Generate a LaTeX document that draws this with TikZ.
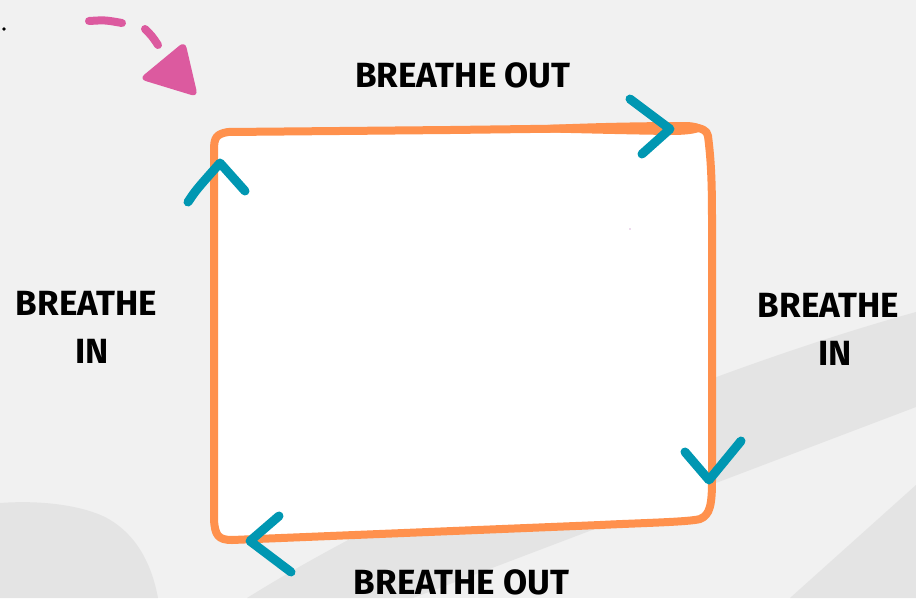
\documentclass[tikz,border=0pt]{standalone}
\usepackage{fontspec}
\setmainfont{Fira Sans}
\definecolor{bgl}{HTML}{F1F1F1}
\definecolor{bgd}{HTML}{E4E4E4}
\definecolor{boxor}{HTML}{FF914D}
\definecolor{teal}{HTML}{0097B2}
\definecolor{pinkc}{HTML}{DC5A9F}
\tikzset{
  boxline/.style={draw=boxor, line width=8pt, fill=white, line join=round},
  chev/.style={draw=teal, line width=9pt, line cap=round, line join=round},
  pinkdash/.style={draw=pinkc, line width=8pt, line cap=round},
  lbl/.style={inner sep=0pt, anchor=base, font=\fontsize{35}{40}\selectfont\bfseries}
}
\begin{document}
\begin{tikzpicture}[x=1pt,y=-1pt]
\useasboundingbox (0,0) rectangle (916,598);
% background
\fill[bgl] (0,0) rectangle (916,598);
\fill[bgd] (916,312) .. controls (700,372) and (420,490) .. (247,598) -- (413,598) -- (916,407) -- cycle;
\fill[bgd] (790,598) -- (916,485) -- (916,598) -- cycle;
\fill[bgd] (0,503) .. controls (40,500) and (80,505) .. (105,517) .. controls (130,530) and (150,555) .. (158,598) -- (0,598) -- cycle;
% box
\draw[boxline] (214,150) .. controls (214,138) and (216,134) .. (228,132) -- (450,130) -- (690,127) .. controls (702,128) and (707,130) .. (708,136) .. controls (711,160) and (712,180) .. (712,220) -- (712,480) .. controls (712,505) and (710,515) .. (700,519) .. controls (690,522) and (640,523) .. (600,525) -- (232,540) .. controls (218,540) and (215,535) .. (214,520) -- cycle;
\fill[boxor] (480,129) .. controls (560,123) and (640,122) .. (688,122) .. controls (700,123) and (704,126) .. (704,129) .. controls (700,133) and (690,135) .. (670,135) .. controls (600,134) and (540,132) .. (480,131) -- cycle;
\fill[violet!60] (630,229) circle (0.7pt);
% chevrons
\draw[chev] (630,99) -- (670,129) -- (642,154);
\draw[chev] (188,202) .. controls (196,190) .. (220,163) -- (245,191);
\draw[chev] (685,452) -- (709,480) -- (741,441);
\draw[chev] (279,516) -- (250,541) -- (291,572);
% pink arrow
\draw[pinkdash] (89,21) .. controls (105,20) .. (122,23);
\draw[pinkdash] (145,29) .. controls (152,36) .. (158,45);
\fill[pinkc, rounded corners=7pt] (139,79) -- (185,41) -- (198,97) -- cycle;
\fill[black] (4,29) circle (1.8pt);
% labels
\node[lbl] (outtop) at (463,87) {BREATHE OUT};
\node[lbl] (outbot) at (461.5,594) {BREATHE OUT};
\node[lbl] (inl1) at (86.5,315) {BREATHE};
\node[lbl] (inl2) at (92,363) {IN};
\node[lbl] (inr1) at (828.5,317) {BREATHE};
\node[lbl] (inr2) at (835,365) {IN};
\end{tikzpicture}
\end{document}
